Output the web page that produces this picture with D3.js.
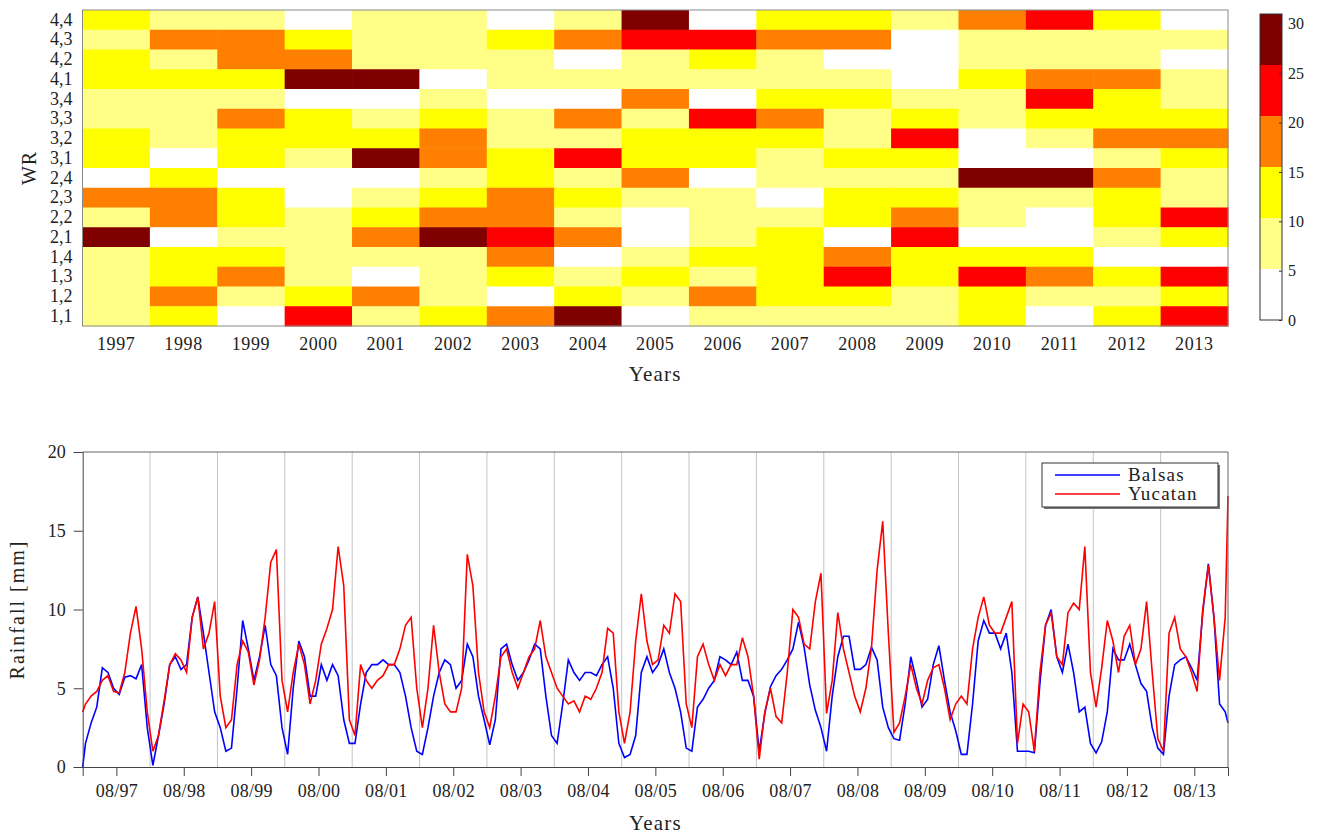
<!DOCTYPE html>
<html>
<head>
<meta charset="utf-8">
<script src="https://cdn.jsdelivr.net/npm/d3@7"></script>
<style>
  body { margin: 0; background: #fff; }
  svg { display: block; }
  text { font-family: "Liberation Serif", "Times New Roman", serif; fill: #222; }
</style>
</head>
<body>
<div id="chart"></div>
<script>
// ---- Heatmap data (count per WR category and year) ----
const years = d3.range(1997, 2014)
const wrLabels = ["4,4", "4,3", "4,2", "4,1", "3,4", "3,3", "3,2", "3,1",
                  "2,4", "2,3", "2,2", "2,1", "1,4", "1,3", "1,2", "1,1"]
const wrCounts = [
  [13, 8, 8, 3, 8, 8, 3, 8, 28, 3, 13, 13, 8, 18, 23, 13, 3],
  [8, 18, 18, 13, 8, 8, 13, 18, 23, 23, 18, 18, 3, 8, 8, 8, 8],
  [13, 8, 18, 18, 8, 8, 8, 3, 8, 13, 8, 3, 3, 8, 8, 8, 3],
  [13, 13, 13, 28, 28, 3, 8, 8, 8, 8, 8, 8, 3, 13, 18, 18, 8],
  [8, 8, 8, 3, 3, 8, 3, 3, 18, 3, 13, 13, 8, 8, 23, 13, 8],
  [8, 8, 18, 13, 8, 13, 8, 18, 8, 23, 18, 8, 13, 8, 13, 13, 13],
  [13, 8, 13, 13, 13, 18, 8, 8, 13, 13, 13, 8, 23, 3, 8, 18, 18],
  [13, 3, 13, 8, 28, 18, 13, 23, 13, 13, 8, 13, 13, 3, 3, 8, 13],
  [3, 13, 3, 3, 3, 8, 13, 8, 18, 3, 8, 8, 8, 28, 28, 18, 8],
  [18, 18, 13, 3, 8, 13, 18, 13, 8, 8, 3, 13, 13, 8, 8, 13, 8],
  [8, 18, 13, 8, 13, 18, 18, 8, 3, 8, 8, 13, 18, 8, 3, 13, 23],
  [28, 3, 8, 8, 18, 28, 23, 18, 3, 8, 13, 3, 23, 3, 3, 8, 13],
  [8, 13, 13, 8, 8, 8, 18, 3, 8, 13, 13, 18, 13, 13, 13, 3, 3],
  [8, 13, 18, 8, 3, 8, 13, 8, 13, 8, 13, 23, 13, 23, 18, 13, 23],
  [8, 18, 8, 13, 18, 8, 3, 13, 8, 18, 13, 13, 8, 13, 8, 8, 13],
  [8, 13, 3, 23, 8, 13, 18, 28, 3, 8, 8, 8, 8, 13, 3, 13, 23],
]
const cbMax = 31
const cbTicks = [0, 5, 10, 15, 20, 25, 30]
const cbColors = ["#ffffff", "#ffff88", "#ffff00", "#ff8000", "#ff0000", "#800000"]

// ---- Rainfall (monthly running values, Jan 1997 .. Dec 2013) ----
const monthTickLabels = ["08/97", "08/98", "08/99", "08/00", "08/01", "08/02", "08/03", "08/04",
  "08/05", "08/06", "08/07", "08/08", "08/09", "08/10", "08/11", "08/12", "08/13"]
const balsasStart = 0, balsasEnd = 2.8
const yucatanStart = 3.5, yucatanEnd = 17.2
const balsas = [
  1.5, 2.8, 3.8, 6.3, 6.0, 5.0, 4.6, 5.7, 5.8, 5.6, 6.5, 2.5,
  0.1, 2.0, 4.0, 6.5, 7.0, 6.2, 6.5, 9.5, 10.8, 8.5, 6.0, 3.5,
  2.5, 1.0, 1.2, 5.0, 9.3, 7.5, 5.5, 7.0, 9.0, 6.5, 5.8, 2.5,
  0.8, 5.0, 8.0, 7.0, 4.5, 4.5, 6.5, 5.5, 6.5, 5.8, 3.0, 1.5,
  1.5, 4.0, 6.0, 6.5, 6.5, 6.8, 6.5, 6.5, 6.0, 4.5, 2.5, 1.0,
  0.8, 2.5, 4.5, 6.0, 6.8, 6.5, 5.0, 5.5, 7.8, 7.0, 4.5, 3.0,
  1.4, 3.0, 7.5, 7.8, 6.5, 5.5, 6.0, 6.8, 7.8, 7.5, 4.5, 2.0,
  1.5, 4.0, 6.8, 6.0, 5.5, 6.0, 6.0, 5.8, 6.5, 7.0, 5.0, 1.5,
  0.6, 0.8, 2.0, 6.0, 7.0, 6.0, 6.5, 7.5, 6.0, 5.0, 3.5, 1.2,
  1.0, 3.8, 4.3, 5.0, 5.5, 7.0, 6.8, 6.5, 7.3, 5.5, 5.5, 4.5,
  1.0, 3.4, 5.1, 5.8, 6.2, 6.8, 7.5, 9.2, 7.6, 5.2, 3.6, 2.5,
  1.0, 4.5, 7.0, 8.3, 8.3, 6.2, 6.2, 6.5, 7.6, 6.8, 3.8, 2.5,
  1.8, 1.7, 4.0, 7.0, 5.5, 3.8, 4.3, 6.5, 7.7, 5.5, 3.5, 2.3,
  0.8, 0.8, 4.0, 8.0, 9.3, 8.5, 8.5, 7.5, 8.5, 6.0, 1.0, 1.0,
  1.0, 0.9, 5.3, 9.0, 10.0, 7.0, 6.0, 7.8, 6.0, 3.5, 3.8, 1.5,
  0.9, 1.6, 3.5, 7.5, 6.8, 6.8, 7.8, 6.5, 5.3, 4.8, 2.5, 1.2,
  0.8, 4.5, 6.5, 6.8, 7.0, 6.3, 5.5, 9.8, 12.9, 9.5, 4.0, 3.5,
]
const yucatan = [
  4.0, 4.5, 4.8, 5.5, 5.8, 4.8, 4.7, 6.0, 8.5, 10.2, 7.5, 3.5,
  1.0, 2.0, 4.2, 6.5, 7.2, 6.8, 6.0, 9.5, 10.8, 7.5, 8.5, 10.5,
  4.5, 2.5, 3.0, 6.5, 8.0, 7.3, 5.2, 6.8, 9.5, 13.0, 13.8, 5.5,
  3.5, 6.0, 7.8, 6.5, 4.0, 5.5, 7.8, 8.8, 10.0, 14.0, 11.5, 3.0,
  2.0, 6.5, 5.5, 5.0, 5.5, 5.8, 6.5, 6.5, 7.5, 9.0, 9.5, 5.0,
  2.5, 5.0, 9.0, 6.0, 4.0, 3.5, 3.5, 5.0, 13.5, 11.5, 6.0, 3.5,
  2.5, 4.5, 7.0, 7.5, 6.0, 5.0, 6.0, 7.0, 7.5, 9.3, 7.0, 6.0,
  5.0, 4.5, 4.0, 4.2, 3.5, 4.5, 4.3, 5.0, 6.0, 8.8, 8.5, 3.5,
  1.5, 3.5, 8.0, 11.0, 8.0, 6.5, 6.8, 9.0, 8.5, 11.0, 10.5, 4.0,
  2.5, 7.0, 7.8, 6.5, 5.5, 6.5, 5.8, 6.5, 6.5, 8.2, 7.0, 4.5,
  0.5, 3.5, 5.0, 3.2, 2.8, 6.0, 10.0, 9.5, 7.8, 7.5, 10.5, 12.3,
  3.4, 5.5, 9.8, 7.5, 6.0, 4.5, 3.5, 5.0, 7.6, 12.5, 15.6, 8.5,
  2.2, 2.8, 4.5, 6.5, 5.0, 4.0, 5.5, 6.3, 6.5, 5.0, 3.0, 4.0,
  4.5, 4.0, 7.5, 9.5, 10.8, 9.0, 8.5, 8.5, 9.5, 10.5, 1.5, 4.0,
  3.5, 1.0, 6.0, 9.0, 9.8, 7.0, 6.5, 9.8, 10.4, 10.0, 14.0, 6.0,
  3.8, 6.3, 9.3, 8.0, 6.0, 8.3, 9.0, 6.5, 7.5, 10.5, 6.0, 1.8,
  1.0, 8.5, 9.5, 7.5, 7.0, 6.0, 4.8, 10.0, 12.8, 9.5, 5.5, 9.5,
]

const W = 1320, H = 834
const svg = d3.select("#chart").append("svg").attr("width", W).attr("height", H)
const tickFont = "'Liberation Serif', serif"

// ================= Heatmap =================
const hm = { left: 82.5, right: 1228, top: 10, bottom: 326 }
const xBand = d3.scaleBand().domain(years).range([hm.left, hm.right])
const yBand = d3.scaleBand().domain(wrLabels).range([hm.top, hm.bottom])
const color = d3.scaleQuantize().domain([0, cbMax]).range(cbColors)

const cells = wrCounts.flatMap((row, i) => row.map((v, j) => ({ wr: wrLabels[i], year: years[j], v })))
svg.append("g").selectAll("rect")
  .data(cells)
  .join("rect")
  .attr("x", d => xBand(d.year)).attr("y", d => yBand(d.wr))
  .attr("width", xBand.bandwidth() + 0.5).attr("height", yBand.bandwidth() + 0.5)
  .attr("fill", d => color(d.v))

svg.append("rect")
  .attr("x", hm.left).attr("y", hm.top)
  .attr("width", hm.right - hm.left).attr("height", hm.bottom - hm.top)
  .attr("fill", "none").attr("stroke", "#8a8a8a").attr("stroke-width", 1)

svg.append("g")
  .attr("transform", `translate(${hm.left},0)`)
  .call(d3.axisLeft(yBand).tickSize(0).tickPadding(10))
  .call(g => g.select(".domain").remove())
  .call(g => g.selectAll("text").attr("font-size", 18).attr("fill", "#222")
    .style("font-family", tickFont))

svg.append("g")
  .attr("transform", `translate(0,${hm.bottom})`)
  .call(d3.axisBottom(xBand).tickSize(0).tickPadding(11))
  .call(g => g.select(".domain").remove())
  .call(g => g.selectAll("text").attr("font-size", 18).attr("fill", "#222")
    .attr("letter-spacing", 0.6).style("font-family", tickFont))

svg.append("text")
  .attr("x", (hm.left + hm.right) / 2).attr("y", 381)
  .attr("text-anchor", "middle").attr("font-size", 21).attr("letter-spacing", 1.2)
  .text("Years")

svg.append("text")
  .attr("transform", `translate(36,${(hm.top + hm.bottom) / 2}) rotate(-90)`)
  .attr("text-anchor", "middle").attr("font-size", 20).attr("letter-spacing", 1)
  .text("WR")

// colorbar
const cb = { x: 1260, w: 22 }
const yC = d3.scaleLinear().domain([0, cbMax]).range([320, 14])
const edges = [0, ...color.thresholds(), cbMax]
svg.append("g").selectAll("rect")
  .data(cbColors)
  .join("rect")
  .attr("x", cb.x).attr("width", cb.w)
  .attr("y", (c, i) => yC(edges[i + 1]))
  .attr("height", (c, i) => yC(edges[i]) - yC(edges[i + 1]))
  .attr("fill", c => c)
svg.append("rect")
  .attr("x", cb.x).attr("y", yC(cbMax)).attr("width", cb.w).attr("height", yC(0) - yC(cbMax))
  .attr("fill", "none").attr("stroke", "#333").attr("stroke-width", 1)
svg.append("g")
  .attr("transform", `translate(${cb.x + cb.w},0)`)
  .call(d3.axisRight(yC).tickValues(cbTicks).tickSize(-3).tickPadding(6))
  .call(g => g.select(".domain").remove())
  .call(g => g.selectAll("line").attr("stroke", "#333"))
  .call(g => g.selectAll("text").attr("font-size", 16).attr("fill", "#222")
    .style("font-family", tickFont))

// ================= Rainfall lines =================
const lp = { left: 82.7, right: 1228, top: 452, bottom: 767 }
const x = d3.scaleLinear().domain([1997, 2014]).range([lp.left, lp.right])
const y = d3.scaleLinear().domain([0, 20]).range([lp.bottom, lp.top])

const monthT = balsas.map((v, i) => 1997 + (i + 0.5) / 12)
const seriesB = [{ t: 1997, v: balsasStart }, ...balsas.map((v, i) => ({ t: monthT[i], v })), { t: 2014, v: balsasEnd }]
const seriesY = [{ t: 1997, v: yucatanStart }, ...yucatan.map((v, i) => ({ t: monthT[i], v })), { t: 2014, v: yucatanEnd }]

// vertical grid at each new year
svg.append("g").selectAll("line")
  .data(years.slice(1))
  .join("line")
  .attr("x1", d => x(d)).attr("x2", d => x(d))
  .attr("y1", lp.top).attr("y2", lp.bottom)
  .attr("stroke", "#c4c4c4").attr("stroke-width", 1)

const line = d3.line().x(d => x(d.t)).y(d => y(d.v))
svg.append("path").datum(seriesB)
  .attr("d", line).attr("fill", "none").attr("stroke", "#0000ff").attr("stroke-width", 1.6)
svg.append("path").datum(seriesY)
  .attr("d", line).attr("fill", "none").attr("stroke", "#ff0000").attr("stroke-width", 1.6)

// box top/right
svg.append("path")
  .attr("d", `M${lp.left},${lp.top}H${lp.right}V${lp.bottom}`)
  .attr("fill", "none").attr("stroke", "#666").attr("stroke-width", 1)

svg.append("g")
  .attr("transform", `translate(0,${lp.bottom})`)
  .call(d3.axisBottom(x).tickValues(years.map(d => d + 0.5))
    .tickFormat((d, i) => monthTickLabels[i]).tickSize(9).tickPadding(8))
  .call(g => g.selectAll("line, path").attr("stroke", "#444"))
  .call(g => g.selectAll("text").attr("font-size", 18).attr("fill", "#222")
    .attr("letter-spacing", 0.3).style("font-family", tickFont))

svg.append("g")
  .attr("transform", `translate(${lp.left},0)`)
  .call(d3.axisLeft(y).tickValues([0, 5, 10, 15, 20]).tickSize(9).tickPadding(8))
  .call(g => g.selectAll("line, path").attr("stroke", "#444"))
  .call(g => g.selectAll("text").attr("font-size", 18).attr("fill", "#222")
    .style("font-family", tickFont))

svg.append("text")
  .attr("x", (lp.left + lp.right) / 2).attr("y", 830)
  .attr("text-anchor", "middle").attr("font-size", 21).attr("letter-spacing", 1.2)
  .text("Years")

svg.append("text")
  .attr("transform", `translate(24,${(lp.top + lp.bottom) / 2}) rotate(-90)`)
  .attr("text-anchor", "middle").attr("font-size", 20).attr("letter-spacing", 2)
  .text("Rainfall [mm]")

// legend
const lg = { x: 1042, y: 463, w: 176, h: 44 }
svg.append("rect").attr("x", lg.x + 2).attr("y", lg.y + 2).attr("width", lg.w).attr("height", lg.h)
  .attr("fill", "#777")
svg.append("rect").attr("x", lg.x).attr("y", lg.y).attr("width", lg.w).attr("height", lg.h)
  .attr("fill", "#fff").attr("stroke", "#333").attr("stroke-width", 1)
const legendItems = [["Balsas", "#0000ff"], ["Yucatan", "#ff0000"]]
legendItems.forEach(([name, c], i) => {
  const ly = lg.y + 12 + i * 19
  svg.append("line").attr("x1", lg.x + 13).attr("x2", lg.x + 78).attr("y1", ly).attr("y2", ly)
    .attr("stroke", c).attr("stroke-width", 1.6)
  svg.append("text").attr("x", lg.x + 86).attr("y", ly + 6)
    .attr("font-size", 19).attr("letter-spacing", 1.2).text(name)
})
</script>
</body>
</html>
